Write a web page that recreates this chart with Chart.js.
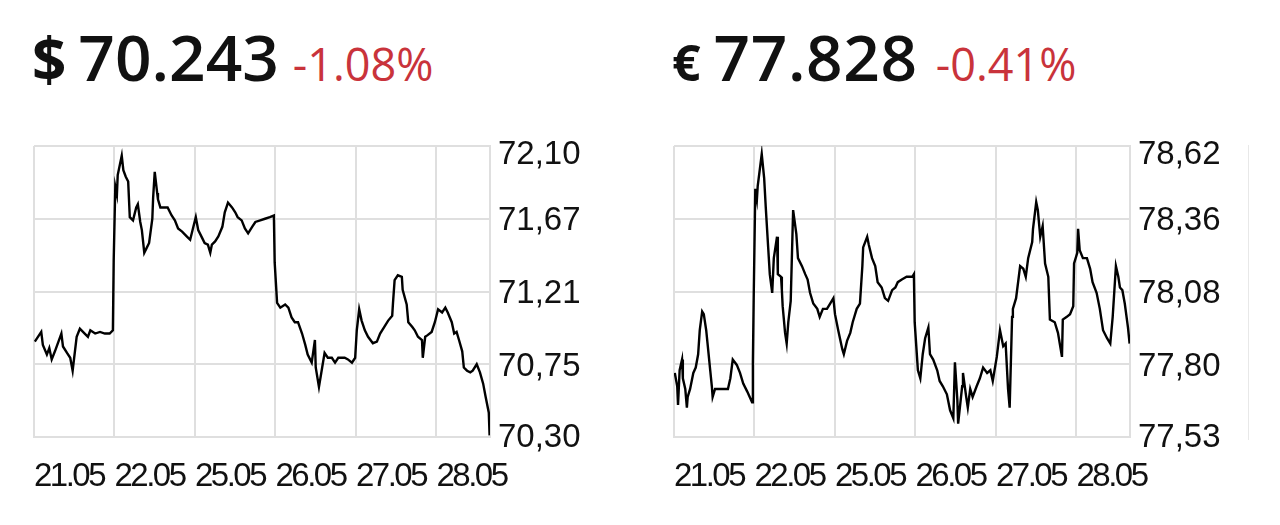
<!DOCTYPE html>
<html>
<head>
<meta charset="utf-8">
<script src="https://cdn.jsdelivr.net/npm/chart.js@4.4.1/dist/chart.umd.min.js"></script>
<style>
  body { margin:0; background:#fff; width:1280px; height:525px; overflow:hidden; position:relative; font-family:"Open Sans", sans-serif; }
  .box { position:absolute; top:0; width:640px; height:525px; }
  .head { position:absolute; top:25px; display:flex; align-items:baseline; line-height:64px; white-space:nowrap; }
  .cur { font-weight:700; color:#111; }
  .price { font-size:64px; font-weight:600; color:#111; }
  .chg { font-size:45px; color:#c9333b; margin-left:14px; }
  .sep { position:absolute; left:1248px; top:145px; width:1px; height:295px; background:#e8e8e8; }
</style>
</head>
<body>
<div class="head" style="left:32px"><span class="cur" style="font-size:60px;margin-right:12px">$</span><span class="price">70.243</span><span class="chg">-1.08%</span></div>
<div class="head" style="left:672px"><span class="cur" style="font-size:50px;margin-right:13px">€</span><span class="price" style="letter-spacing:0.6px">77.828</span><span class="chg" style="margin-left:18px">-0.41%</span></div>
<div class="box" style="left:0"><canvas id="usd"></canvas></div>
<div class="box" style="left:640px"><canvas id="eur"></canvas></div>
<div class="sep"></div>
<script>
var dayLabels = ["21.05","22.05","25.05","26.05","27.05","28.05"]

var usdTicks = ["70,30","70,75","71,21","71,67","72,10"]
var eurTicks = ["77,53","77,80","78,08","78,36","78,62"]

// x = days since 21.05 open (fraction of a trading day)
var usdDays = [0.01,0.09,0.11,0.16,0.19,0.22,0.26,0.34,0.36,0.41,0.45,0.48,0.53,0.57,0.63,0.67,0.70,0.76,0.82,0.88,0.94,0.98,
  0.99,1.01,1.03,1.04,1.09,1.11,1.14,1.17,1.19,1.23,1.27,1.29,1.32,1.34,1.37,1.40,1.43,1.47,1.48,1.50,1.53,1.54,1.57,1.61,1.66,
  1.71,1.75,1.79,1.84,1.90,1.94,1.98,2.01,2.04,2.09,2.12,2.16,2.19,2.21,2.25,2.29,2.34,2.37,2.41,2.46,2.50,2.53,2.58,2.62,2.66,
  2.71,2.75,2.81,2.87,2.93,2.98,2.99,3.02,3.06,3.12,3.16,3.20,3.24,3.28,3.33,3.37,3.40,3.45,3.49,3.50,3.54,3.58,3.61,3.65,3.70,
  3.74,3.78,3.83,3.86,3.90,3.95,3.99,4.01,4.04,4.07,4.11,4.15,4.21,4.26,4.30,4.35,4.40,4.45,4.46,4.48,4.52,4.57,4.58,4.63,4.65,
  4.70,4.73,4.77,4.82,4.83,4.86,4.89,4.94,4.98,5.02,5.07,5.11,5.14,5.19,5.22,5.25,5.28,5.32,5.34,5.38,5.42,5.45,5.50,5.54,5.58,
  5.61,5.65,5.66]
var usdValues = [70.89,70.95,70.87,70.81,70.85,70.78,70.83,70.94,70.86,70.82,70.79,70.71,70.92,70.97,70.94,70.92,70.96,70.94,70.95,70.94,70.94,70.96,
  71.39,71.85,71.80,71.92,72.04,71.95,71.91,71.88,71.66,71.64,71.72,71.74,71.63,71.58,71.44,71.47,71.50,71.65,71.78,71.94,71.81,71.77,71.72,71.72,71.72,
  71.67,71.64,71.59,71.57,71.54,71.52,71.60,71.66,71.58,71.53,71.50,71.49,71.44,71.49,71.51,71.54,71.60,71.69,71.75,71.72,71.69,71.66,71.64,71.59,71.56,
  71.60,71.63,71.64,71.65,71.66,71.67,71.38,71.13,71.10,71.12,71.10,71.04,71.01,71.01,70.94,70.87,70.81,70.76,70.90,70.73,70.61,70.73,70.82,70.79,70.79,
  70.76,70.79,70.79,70.79,70.78,70.76,70.79,70.96,71.09,71.02,70.96,70.92,70.88,70.89,70.94,70.98,71.02,71.05,71.13,71.27,71.30,71.29,71.21,71.12,71.01,
  70.98,70.96,70.92,70.90,70.79,70.92,70.93,70.95,71.01,71.09,71.07,71.10,71.07,71.01,70.94,70.95,70.90,70.83,70.73,70.71,70.70,70.71,70.75,70.70,70.63,
  70.55,70.45,70.31]

var eurDays = [0.01,0.04,0.05,0.07,0.10,0.11,0.14,0.16,0.17,0.20,0.24,0.27,0.30,0.32,0.35,0.37,0.40,0.42,0.45,0.47,0.48,0.51,0.55,0.60,0.63,0.67,
  0.70,0.73,0.78,0.82,0.86,0.91,0.97,0.98,0.99,1.01,1.03,1.04,1.09,1.12,1.14,1.17,1.19,1.22,1.24,1.28,1.29,1.33,1.34,1.35,1.38,1.40,1.42,1.45,
  1.48,1.52,1.54,1.59,1.63,1.66,1.69,1.73,1.78,1.81,1.85,1.90,1.94,1.98,2.00,2.04,2.09,2.11,2.15,2.19,2.22,2.27,2.31,2.34,2.35,2.40,2.42,2.46,
  2.50,2.53,2.58,2.62,2.66,2.71,2.75,2.78,2.83,2.89,2.96,2.98,2.99,3.03,3.06,3.09,3.12,3.16,3.18,3.22,3.27,3.30,3.34,3.39,3.43,3.47,3.49,3.52,
  3.53,3.58,3.59,3.63,3.65,3.68,3.71,3.76,3.80,3.84,3.89,3.93,3.96,4.01,4.05,4.09,4.12,4.15,4.17,4.20,4.21,4.25,4.30,4.34,4.37,4.40,4.45,4.46,
  4.50,4.52,4.55,4.58,4.61,4.65,4.67,4.73,4.77,4.82,4.83,4.88,4.92,4.96,4.97,5.01,5.02,5.04,5.08,5.13,5.17,5.20,5.25,5.29,5.33,5.38,5.42,5.45,
  5.49,5.52,5.54,5.57,5.60,5.64,5.66]
var eurValues = [77.77,77.72,77.65,77.78,77.82,77.75,77.71,77.64,77.68,77.71,77.77,77.79,77.84,77.93,78.00,77.99,77.93,77.87,77.78,77.72,77.68,77.71,77.71,77.71,77.71,77.71,
  77.75,77.82,77.80,77.77,77.73,77.70,77.66,77.81,78.05,78.46,78.42,78.47,78.59,78.50,78.39,78.24,78.14,78.07,78.20,78.28,78.14,78.13,78.08,78.02,77.92,77.88,77.96,78.04,
  78.38,78.29,78.20,78.17,78.14,78.12,78.07,78.03,78.01,77.98,78.01,78.01,78.03,78.05,77.99,77.93,77.86,77.84,77.89,77.92,77.96,78.01,78.03,78.17,78.24,78.28,78.25,78.20,
  78.17,78.11,78.09,78.05,78.04,78.08,78.09,78.11,78.12,78.13,78.13,78.14,77.96,77.78,77.75,77.84,77.90,77.94,77.84,77.82,77.78,77.74,77.72,77.69,77.63,77.60,77.81,77.67,
  77.58,77.72,77.77,77.68,77.64,77.71,77.68,77.72,77.75,77.79,77.77,77.78,77.74,77.83,77.93,77.87,77.88,77.71,77.64,77.98,78.01,78.05,78.17,78.16,78.13,78.20,78.26,78.31,
  78.41,78.38,78.28,78.32,78.18,78.13,77.97,77.96,77.92,77.83,77.97,77.98,77.99,78.02,78.18,78.22,78.31,78.23,78.20,78.20,78.16,78.11,78.07,78.01,77.93,77.90,77.88,77.98,
  78.17,78.13,78.09,78.08,78.03,77.94,77.88,77.86]

var gridColor = "#dfdfdf"
var labelFont = "'Liberation Sans', Arial, sans-serif"

function num(s) { return parseFloat(s.replace(",", ".")) }

// the old chart image draws its date labels tighter than normal text
function tightLabels(s) {
  if (s._tight) return
  var orig = s.drawLabels
  s.drawLabels = function (area) {
    var c = this.ctx
    var old = c.letterSpacing
    c.letterSpacing = "-2.5px"
    orig.call(this, area)
    c.letterSpacing = old
  }
  s._tight = true
}

function makeChart(id, days, values, tickLabels) {
  var lo = num(tickLabels[0])
  var hi = num(tickLabels[tickLabels.length - 1])
  var last = tickLabels.length - 1
  var points = days.map(function (d, i) { return { x: d, y: values[i] } })
  return new Chart(document.getElementById(id), {
    type: "line",
    data: { datasets: [{ data: points, borderColor: "#000", borderWidth: 2.4, pointRadius: 0, tension: 0, fill: false }] },
    options: {
      animation: false,
      responsive: true,
      maintainAspectRatio: false,
      devicePixelRatio: 1,
      layout: { padding: { left: 34, top: 146, right: 40, bottom: 28 } },
      plugins: { legend: { display: false }, tooltip: { enabled: false } },
      scales: {
        x: {
          type: "linear",
          min: 0,
          max: 5.665,
          afterBuildTicks: function (s) { s.ticks = dayLabels.map(function (_, i) { return { value: i } }) },
          afterFit: function (s) { s.height = 60; tightLabels(s) },
          grid: { color: gridColor, lineWidth: 2, drawTicks: false },
          border: { color: gridColor, width: 2 },
          ticks: {
            callback: function (v, i) { return dayLabels[i] },
            align: "start",
            autoSkip: false,
            maxRotation: 0,
            minRotation: 0,
            padding: 20,
            color: "#111",
            font: { family: labelFont, size: 33 }
          }
        },
        y: {
          position: "right",
          min: lo,
          max: hi,
          afterBuildTicks: function (s) {
            s.ticks = tickLabels.map(function (_, i) { return { value: lo + i * (hi - lo) / last } })
          },
          afterFit: function (s) { s.width = 110 },
          grid: { color: gridColor, lineWidth: 2, drawTicks: false },
          border: { color: gridColor, width: 2 },
          ticks: {
            // empty first line pushes the label a little below its gridline, as in the original
            callback: function (v, i) { return ["", tickLabels[i]] },
            padding: 8,
            color: "#111",
            font: function (ctx) {
              var i = ctx.index
              var lh = i === last ? "18px" : (i === 0 ? "1px" : "5px")
              return { family: labelFont, size: 33, lineHeight: lh }
            }
          }
        }
      }
    }
  })
}

makeChart("usd", usdDays, usdValues, usdTicks)
makeChart("eur", eurDays, eurValues, eurTicks)
</script>
</body>
</html>
